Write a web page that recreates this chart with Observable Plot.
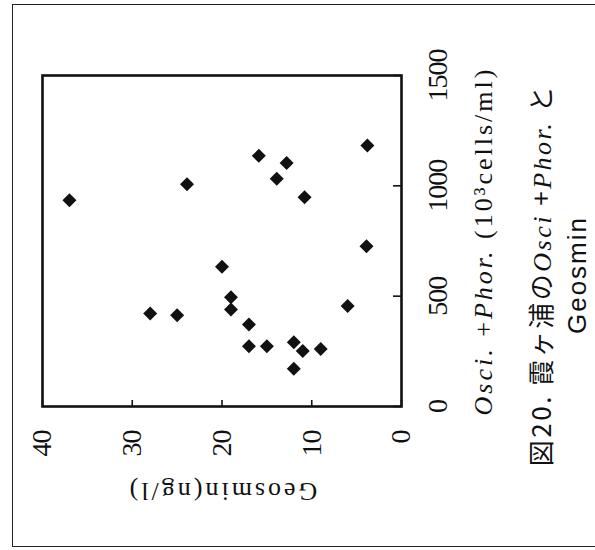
<!DOCTYPE html>
<html><head><meta charset="utf-8">
<script src="https://cdn.jsdelivr.net/npm/d3@7"></script>
<script src="https://cdn.jsdelivr.net/npm/@observablehq/plot@0.6"></script>
<style>
html,body{margin:0;padding:0;background:#fff;width:595px;height:550px;overflow:hidden;}
#page{position:absolute;left:0;top:0;width:550px;height:595px;transform-origin:0 0;transform:translate(0,550px) rotate(-90deg);background:#fff;}
#border{position:absolute;left:3px;top:12px;width:541px;height:600px;border:1.5px solid #222;border-bottom:none;}
#chart{position:absolute;left:0;top:0;}
#caption{position:absolute;left:0;top:523px;width:550px;text-align:center;color:#111;}
#caption .l1{font-family:"Noto Sans CJK JP";font-size:26px;line-height:34px;letter-spacing:2.5px;}
#caption .l2{font-family:"Liberation Sans";font-size:26px;line-height:34px;letter-spacing:2px;}
#caption i{font-family:"Liberation Serif";}
</style></head><body>
<div id="page"><div id="border"></div><div id="chart"></div><div id="caption"></div></div>
<script>
// Geosmin (ng/l) and Osci.+Phor. (10^3 cells/ml)
const geosmin = [37.0, 23.9, 28.0, 25.0, 20.0, 19.0, 19.0, 17.0, 17.0, 15.0, 15.9, 12.8, 13.9, 10.8, 12.0, 11.0, 9.0, 12.0, 6.0, 3.8, 3.9];
const cells   = [935, 1007, 421, 414, 633, 495, 440, 372, 273, 273, 1136, 1104, 1032, 948, 291, 251, 261, 171, 455, 1183, 726];
const cellTicks = [0, 500, 1000, 1500];
const geosminTicks = [0, 10, 20, 30, 40];
const xLabelParts = [["Osci.", true], [" +", false], ["Phor.", true], [" (10³cells/ml)", false]];
const yLabel = "Geosmin(ng/l)";
const captionLine1 = [["図20. 霞ヶ浦の", false], ["Osci", true], [" +", false], ["Phor.", true], [" と", false]];
const captionLine2 = "Geosmin";

const data = geosmin.map((g, i) => ({g, c: cells[i]}));
const ink = "#111";
const W = 550, H = 510, mL = 143, mR = 76, mT = 42, mB = 109;
const frameW = W - mL - mR, frameH = H - mT - mB;

const chart = Plot.plot({
  width: W, height: H,
  marginLeft: mL, marginRight: mR, marginTop: mT, marginBottom: mB,
  style: {fontFamily: "Liberation Serif", color: ink, background: "transparent", overflow: "visible"},
  x: {domain: [0, 1500]},
  y: {domain: [0, 40]},
  marks: [
    Plot.axisX(cellTicks, {tickSize: 0, tickPadding: 26, fontSize: 28,
      tickFormat: d3.format("d"), label: xLabelParts.map(p => p[0]).join(""),
      labelAnchor: "center", labelArrow: "none", labelOffset: 90}),
    Plot.axisY(geosminTicks, {tickSize: 0, tickPadding: 24, fontSize: 28,
      tickFormat: d3.format("d"), label: yLabel,
      labelAnchor: "center", labelArrow: "none", labelOffset: 95}),
    Plot.tickX(cellTicks, {x: d => d, insetTop: frameH - 8, stroke: ink, strokeWidth: 1.6}),
    Plot.tickY(geosminTicks, {y: d => d, insetRight: frameW - 7, stroke: ink, strokeWidth: 1.6}),
    Plot.frame({stroke: ink, strokeWidth: 2.6}),
    Plot.dot(data, {x: "c", y: "g", symbol: "diamond2", r: 6.3, fill: ink, stroke: "none"})
  ]
});

const svg = d3.select(chart);
svg.selectAll('g[aria-label="x-axis tick label"] text, g[aria-label="y-axis tick label"] text')
  .style("letter-spacing", "-1px");
const xl = svg.select('g[aria-label="x-axis label"] text');
xl.text(null).style("font-size", "26px").style("letter-spacing", "3px");
xLabelParts.forEach(([t, it]) => xl.append("tspan").attr("font-style", it ? "italic" : null).text(t));
svg.select('g[aria-label="y-axis label"] text').style("font-size", "26px").style("letter-spacing", "3px");

document.getElementById("chart").appendChild(chart);

const cap = document.getElementById("caption");
const l1 = document.createElement("div"); l1.className = "l1";
captionLine1.forEach(([t, it]) => {
  const el = document.createElement(it ? "i" : "span");
  el.textContent = t; l1.appendChild(el);
});
const l2 = document.createElement("div"); l2.className = "l2"; l2.textContent = captionLine2;
cap.appendChild(l1); cap.appendChild(l2);
</script>
</body></html>
